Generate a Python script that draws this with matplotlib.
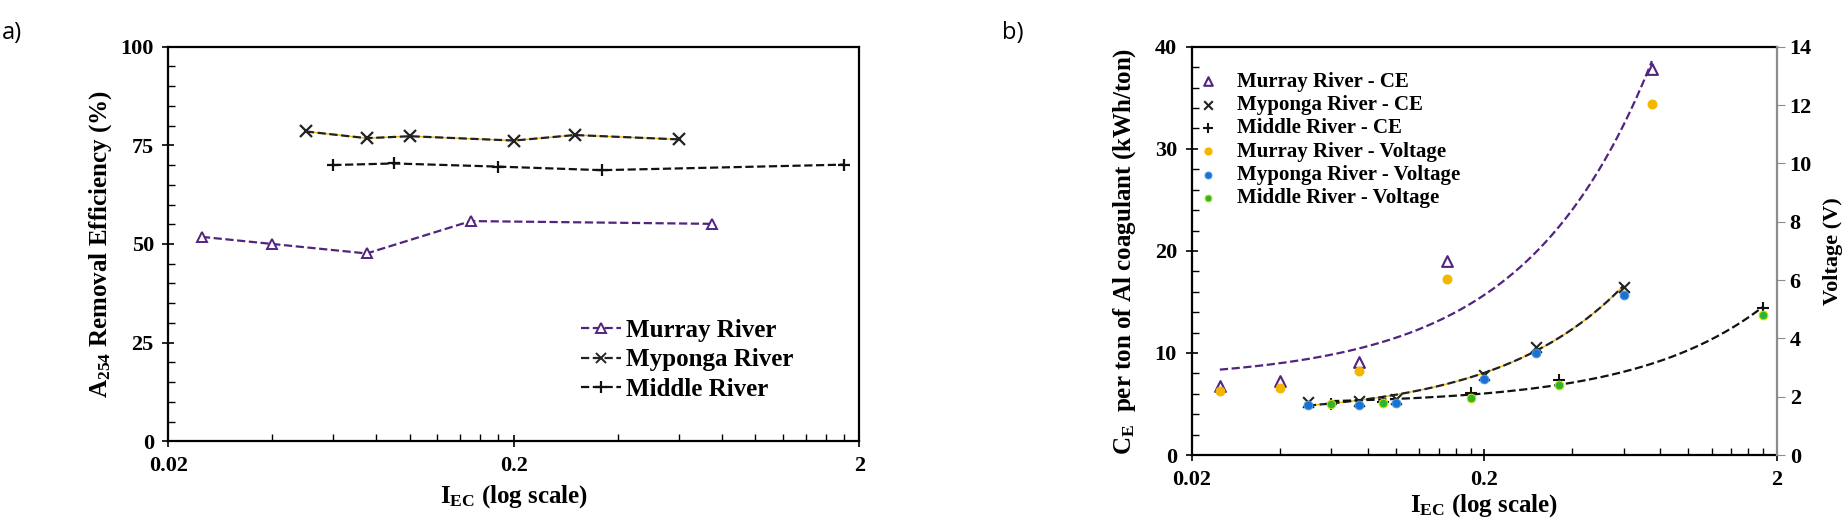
"""Removal efficiency and energy consumption vs I_EC for three rivers (panels a and b)."""

import numpy as np
import matplotlib
matplotlib.use("Agg")
import matplotlib.pyplot as plt
from matplotlib.ticker import FixedLocator, NullFormatter, MultipleLocator
from matplotlib.lines import Line2D

plt.rcParams["font.family"] = ["Liberation Serif", "DejaVu Serif"]
plt.rcParams["font.weight"] = "bold"
plt.rcParams["axes.labelweight"] = "bold"
plt.rcParams["mathtext.fontset"] = "custom"
plt.rcParams["mathtext.rm"] = "Liberation Serif:bold"
plt.rcParams["mathtext.it"] = "Liberation Serif:bold"
plt.rcParams["mathtext.bf"] = "Liberation Serif:bold"

# ---- data ----
murray_iec = [0.025, 0.04, 0.075, 0.15, 0.75]
myponga_iec = [0.05, 0.075, 0.1, 0.2, 0.3, 0.6]
middle_iec = [0.06, 0.09, 0.18, 0.36, 1.8]

# panel a: A254 removal efficiency (%)
murray_removal = [51.8, 50.0, 47.6, 55.8, 55.1]
myponga_removal = [78.5, 76.8, 77.3, 76.2, 77.6, 76.5]
middle_removal = [70.0, 70.4, 69.6, 68.7, 70.1]

# panel b: energy consumption CE (kWh/ton Al) and cell voltage (V)
murray_ce = [6.8, 7.3, 9.1, 19.0, 37.8]
myponga_ce = [5.2, 5.3, 5.5, 7.85, 10.6, 16.5]
middle_ce = [5.0, 5.2, 6.05, 7.36, 14.45]
murray_volt = [2.19, 2.31, 2.89, 6.02, 12.03]
myponga_volt = [1.71, 1.71, 1.79, 2.60, 3.51, 5.49]
middle_volt = [1.75, 1.79, 1.95, 2.40, 4.80]

PURPLE = "#52247F"
GOLD = "#F2B705"
BLUE = "#1E6FD0"
GREEN = "#2DB52D"

MAJOR_X = [0.02, 0.2, 2]
MINOR_X = [0.02 * k for k in range(2, 10)] + [0.2 * k for k in range(2, 10)]


def style_log_x(ax):
    ax.set_xscale("log")
    ax.set_xlim(0.02, 2)
    ax.xaxis.set_major_locator(FixedLocator(MAJOR_X))
    ax.xaxis.set_minor_locator(FixedLocator(MINOR_X))
    ax.xaxis.set_minor_formatter(NullFormatter())
    ax.set_xticklabels(["0.02", "0.2", "2"])
    ax.tick_params(which="major", direction="inout", length=9, width=1.2,
                   labelsize=16, pad=6)
    ax.tick_params(which="minor", direction="in", length=5, width=1.0)
    for sp in ax.spines.values():
        sp.set_linewidth(1.6)


fig = plt.figure(figsize=(18.45, 5.18), dpi=100)

# ---------------- panel a ----------------
ax1 = fig.add_axes([0.0913, 0.148, 0.3745, 0.762])
style_log_x(ax1)
ax1.set_ylim(0, 100)
ax1.yaxis.set_major_locator(MultipleLocator(25))
ax1.yaxis.set_minor_locator(MultipleLocator(5))

ax1.plot(murray_iec, murray_removal, linestyle="--", color=PURPLE, lw=1.6,
         marker="^", ms=7, mfc="white", mec=PURPLE, mew=1.4,
         label="Murray River")
ax1.plot(myponga_iec, myponga_removal, linestyle="-", color=GOLD, lw=1.0)
ax1.plot(myponga_iec, myponga_removal, linestyle="--", color="#222222", lw=1.6,
         marker="x", ms=8, mec="#222222", mew=1.6)
ax1.plot(middle_iec, middle_removal, linestyle="--", color="#111111", lw=1.6,
         marker="+", ms=9, mew=1.6, label="Middle River")

leg_a = [
    Line2D([], [], linestyle="--", color=PURPLE, lw=1.6, marker="^", ms=7,
           mfc="white", mec=PURPLE, mew=1.4),
    Line2D([], [], linestyle="--", color="#222222", lw=1.6, marker="x", ms=7,
           mec="#222222", mew=1.4),
    Line2D([], [], linestyle="--", color="#111111", lw=1.6, marker="+", ms=9,
           mew=1.6),
]
ax1.legend(leg_a, ["Murray River", "Myponga River", "Middle River"],
           loc="lower left", bbox_to_anchor=(0.565, 0.045), frameon=False,
           fontsize=18, handlelength=1.6, handletextpad=0.2, labelspacing=0.27)
ax1.set_xlabel(r"I$_{\mathrm{EC}}$ (log scale)", fontsize=18, labelpad=5)
ax1.set_ylabel(r"A$_{\mathrm{254}}$ Removal Efficiency (%)", fontsize=18,
               labelpad=5)
fig.text(0.001, 0.925, "a)", family=["Open Sans", "DejaVu Sans"],
         fontweight="normal", fontsize=17)

# ---------------- panel b ----------------
ax2 = fig.add_axes([0.6458, 0.1216, 0.3171, 0.788])
style_log_x(ax2)
ax2.set_ylim(0, 40)
ax2.yaxis.set_major_locator(MultipleLocator(10))
ax2.yaxis.set_minor_locator(MultipleLocator(2))
ax2.spines["right"].set_visible(False)

ax3 = ax2.twinx()
ax3.set_ylim(0, 14)
ax3.yaxis.set_major_locator(MultipleLocator(2))
ax3.spines["right"].set_color("#8c8c8c")
ax3.spines["right"].set_linewidth(1.6)
for side in ("left", "top", "bottom"):
    ax3.spines[side].set_visible(False)
ax3.tick_params(axis="y", direction="out", length=6, color="#8c8c8c",
                labelsize=16)

# linear trend lines fitted to the CE points (drawn on the log axis)
fits = [
    (murray_iec, murray_ce, PURPLE, None),
    (myponga_iec, myponga_ce, "#222222", GOLD),
    (middle_iec, middle_ce, "#111111", None),
]
for xs, ys, col, under in fits:
    coef = np.polyfit(xs, ys, 1)
    xx = np.geomspace(min(xs), max(xs), 200)
    if under:
        ax2.plot(xx, np.polyval(coef, xx), "-", color=under, lw=1.0, zorder=2)
    ax2.plot(xx, np.polyval(coef, xx), "--", color=col, lw=1.6, zorder=2)

h1 = ax2.scatter(murray_iec, murray_ce, marker="^", s=60, facecolor="white",
                 edgecolor=PURPLE, linewidth=1.5, zorder=4,
                 label="Murray River - CE")
h2 = ax2.scatter(myponga_iec, myponga_ce, marker="x", s=60, color="#222222",
                 linewidth=1.5, zorder=4, label="Myponga River - CE")
h3 = ax2.scatter(middle_iec, middle_ce, marker="+", s=70, color="#111111",
                 linewidth=1.5, zorder=4, label="Middle River - CE")
h4 = ax3.scatter(murray_iec, murray_volt, marker="o", s=38, color=GOLD,
                 zorder=3, label="Murray River - Voltage")
h5 = ax3.scatter(myponga_iec, myponga_volt, marker="o", s=38, color=BLUE,
                 edgecolor="#3a9be8", linewidth=0.8, zorder=3,
                 label="Myponga River - Voltage")
h6 = ax3.scatter(middle_iec, middle_volt, marker="o", s=38, color=GREEN,
                 edgecolor="#c8e000", linewidth=0.8, zorder=3,
                 label="Middle River - Voltage")

ax3.legend([h1, h2, h3, h4, h5, h6],
           [h.get_label() for h in (h1, h2, h3, h4, h5, h6)],
           loc="upper left", bbox_to_anchor=(-0.04, 0.985), frameon=False,
           fontsize=15, handletextpad=0.4, labelspacing=0.16,
           scatterpoints=1, markerscale=0.8)

ax2.set_xlabel(r"I$_{\mathrm{EC}}$ (log scale)", fontsize=18, labelpad=2)
ax2.set_ylabel(r"C$_{\mathrm{E}}$  per ton of Al coagulant (kWh/ton)",
               fontsize=18, labelpad=12)
ax3.set_ylabel("Voltage (V)", fontsize=16, labelpad=8)
fig.text(0.543, 0.925, "b)", family=["Open Sans", "DejaVu Sans"],
         fontweight="normal", fontsize=17)

fig.savefig("out.png", dpi=100)
